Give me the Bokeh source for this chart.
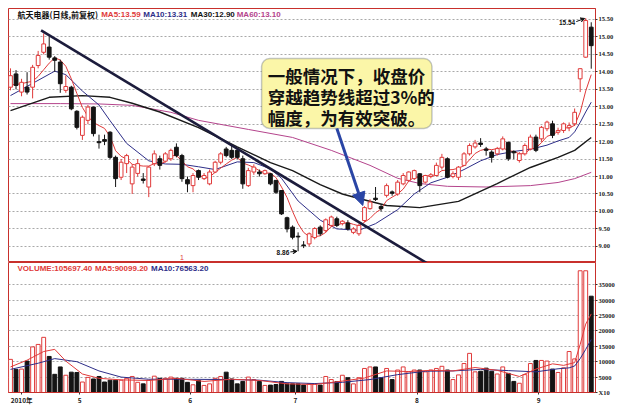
from bokeh.plotting import figure
from bokeh.models import (Range1d, FixedTicker, BoxAnnotation, Arrow, NormalHead,
                          VeeHead, ColumnDataSource, NumeralTickFormatter)
from bokeh.layouts import column
from bokeh.embed import file_html
from bokeh.resources import INLINE
from bokeh.core.properties import value

# ---------------- data ----------------
month_ticks = [2.0, 12.5, 32.5, 51.5, 73.5, 95.5]
month_labels = ["2010年", "5", "6", "7", "8", "9"]
price_ticks = [9.0, 9.5, 10.0, 10.5, 11.0, 11.5, 12.0, 12.5, 13.0, 13.5, 14.0, 14.5, 15.0, 15.5]
volume_ticks = [0, 5000, 10000, 15000, 20000, 25000, 30000, 35000]
volume_tick_labels = ["X10", "5000", "10000", "15000", "20000", "25000", "30000", "35000"]

opens = [13.56, 13.94, 13.42, 13.56, 13.56, 14.18, 14.56, 14.71, 14.40, 14.28,
         13.47, 13.56, 12.87, 12.18, 12.61, 12.99, 12.00, 12.06, 12.27, 11.55,
         10.98, 11.37, 10.79, 11.09, 10.93, 10.70, 11.37, 11.51, 11.44, 11.51,
         11.84, 11.60, 10.91, 10.74, 11.17, 10.94, 10.79, 11.13, 11.41, 11.79,
         11.75, 11.75, 11.51, 10.74, 11.13, 11.13, 11.08, 11.08, 10.89, 10.60,
         9.82, 9.55, 9.29, 9.04, 9.07, 9.25, 9.55, 9.45, 9.60, 9.79,
         9.65, 9.67, 9.40, 9.36, 9.74, 10.08, 10.38, 10.14, 10.46, 10.56,
         10.50, 10.79, 10.89, 10.94, 11.08, 10.84, 11.00, 11.03, 11.27, 11.51,
         11.00, 10.98, 11.32, 11.65, 11.85, 11.96, 11.79, 11.70, 11.65, 11.79,
         11.98, 11.72, 11.46, 11.65, 11.79, 12.13, 12.08, 12.37, 12.51, 12.27,
         12.32, 12.40, 12.51, 13.80, 14.42, 15.28]
closes = [13.89, 13.61, 13.70, 13.42, 14.13, 14.47, 14.80, 14.42, 14.33, 13.66,
          13.58, 12.94, 12.41, 12.70, 12.99, 12.23, 11.97, 12.01, 11.55, 10.94,
          11.41, 11.60, 11.27, 11.37, 10.89, 11.27, 11.65, 11.32, 11.65, 11.75,
          11.60, 10.94, 10.79, 11.03, 10.98, 11.03, 11.13, 11.41, 11.65, 11.60,
          11.55, 11.55, 10.79, 11.17, 11.27, 11.08, 11.17, 10.79, 10.55, 9.93,
          9.50, 9.26, 9.27, 9.02, 9.36, 9.51, 9.36, 9.76, 9.84, 9.60,
          9.72, 9.50, 9.50, 9.60, 10.11, 10.27, 10.34, 10.08, 10.74, 10.52,
          10.84, 11.03, 11.13, 11.17, 10.74, 11.03, 11.05, 11.32, 11.55, 10.98,
          11.08, 11.27, 11.65, 11.89, 11.96, 11.92, 11.75, 11.55, 11.80, 12.08,
          11.51, 11.68, 11.65, 11.89, 12.13, 11.75, 12.41, 12.56, 12.18, 12.32,
          12.51, 12.46, 12.84, 14.09, 15.47, 14.75]
highs = [14.10, 14.05, 13.80, 13.99, 14.20, 14.60, 15.10, 15.00, 14.45, 14.35,
         13.90, 13.60, 12.90, 12.75, 13.05, 13.00, 12.20, 12.20, 12.30, 11.60,
         11.50, 11.65, 11.35, 11.50, 11.10, 11.30, 11.75, 11.60, 11.70, 11.80,
         11.95, 11.65, 11.00, 11.10, 11.20, 11.10, 11.20, 11.45, 11.70, 11.85,
         11.90, 11.80, 11.60, 11.25, 11.35, 11.20, 11.20, 11.10, 10.90, 10.60,
         9.85, 9.60, 9.40, 9.15, 9.40, 9.55, 9.60, 9.80, 9.88, 9.85,
         9.75, 9.75, 9.55, 9.65, 10.15, 10.35, 10.70, 10.20, 10.80, 10.60,
         10.90, 11.10, 11.15, 11.20, 11.10, 11.05, 11.10, 11.40, 11.65, 11.55,
         11.15, 11.30, 11.70, 11.95, 12.05, 12.10, 11.85, 11.75, 11.85, 12.15,
         12.00, 11.75, 11.70, 11.95, 12.20, 12.20, 12.45, 12.60, 12.60, 12.40,
         12.55, 12.55, 12.95, 14.10, 15.54, 15.42]
lows = [13.47, 13.50, 13.30, 13.35, 13.24, 14.10, 14.50, 14.35, 14.00, 13.40,
        13.40, 12.90, 12.35, 12.05, 12.50, 12.15, 11.80, 11.90, 11.50, 10.70,
        10.90, 11.10, 10.50, 11.00, 10.80, 10.41, 11.30, 11.20, 11.40, 11.45,
        11.55, 10.85, 10.55, 10.55, 10.90, 10.90, 10.75, 11.10, 11.35, 11.55,
        11.50, 11.50, 10.65, 10.70, 11.05, 11.00, 11.05, 10.75, 10.50, 9.90,
        9.40, 9.20, 8.86, 8.95, 9.00, 9.20, 9.30, 9.40, 9.55, 9.55,
        9.60, 9.45, 9.35, 9.30, 9.70, 10.05, 10.30, 10.00, 10.40, 10.45,
        10.45, 10.75, 10.85, 10.90, 10.55, 10.80, 10.95, 11.00, 11.20, 10.95,
        10.95, 10.90, 11.30, 11.60, 11.80, 11.85, 11.60, 11.40, 11.60, 11.75,
        11.45, 11.50, 11.40, 11.60, 11.75, 11.70, 12.00, 12.30, 12.10, 12.20,
        12.25, 12.30, 12.45, 13.42, 14.40, 14.09]
volumes = [10750, 7500, 7600, 10200, 14800, 15600, 17900, 11700, 5900, 8300,
           5600, 6600, 6500, 3400, 4900, 4400, 5200, 3400, 4000, 4000,
           4000, 4600, 5200, 3300, 2800, 4000, 5300, 4600, 4600, 5000,
           4600, 4600, 3300, 2500, 3900, 2300, 2800, 4600, 5200, 6600,
           4400, 2800, 3600, 5000, 4200, 3600, 2300, 2400, 2600, 3600,
           2800, 2800, 2800, 2400, 2800, 2800, 2400, 5200, 4200, 3500,
           5600, 4800, 2800, 4800, 7800, 8300, 8300, 4800, 7800, 4200,
           7300, 8300, 6700, 7300, 7300, 6700, 7300, 7800, 8500, 7300,
           4200, 5700, 9400, 12700, 6700, 6900, 7900, 6900, 6000, 8300,
           6200, 3600, 3000, 5800, 9400, 10400, 10400, 10200, 7600, 6500,
           8000, 13300, 10900, 39500, 39500, 31250]

ma5 = [13.62, 13.64, 13.66, 13.70, 13.73, 13.87, 14.06, 14.25, 14.40, 14.34,
       14.16, 13.80, 13.38, 12.98, 12.72, 12.55, 12.46, 12.38, 12.15, 11.74,
       11.58, 11.50, 11.35, 11.32, 11.30, 11.30, 11.37, 11.36, 11.42, 11.60,
       11.60, 11.45, 11.28, 11.22, 11.07, 10.95, 10.99, 11.12, 11.24, 11.36,
       11.47, 11.55, 11.39, 11.33, 11.26, 11.17, 11.10, 11.10, 10.97, 10.70,
       10.40, 10.00, 9.65, 9.40, 9.28, 9.28, 9.30, 9.40, 9.57, 9.61,
       9.66, 9.68, 9.63, 9.59, 9.69, 9.80, 9.96, 10.07, 10.31, 10.41,
       10.50, 10.64, 10.87, 10.98, 10.98, 11.02, 11.02, 11.06, 11.17, 11.19,
       11.20, 11.24, 11.31, 11.48, 11.66, 11.75, 11.79, 11.77, 11.80, 11.83,
       11.74, 11.72, 11.65, 11.66, 11.79, 11.82, 11.97, 12.15, 12.21, 12.28,
       12.40, 12.39, 12.47, 12.84, 13.45, 13.92]
ma10_x = [0, 4, 8, 10, 13, 16, 18, 21, 25, 28, 31, 34, 37, 41, 44, 47, 49, 52, 56, 59,
          63, 66, 70, 73, 76, 79, 82, 85, 88, 91, 94, 97, 99, 101, 102, 103, 104, 105]
ma10_v = [13.32, 13.67, 14.02, 13.92, 13.45, 13.05, 12.60, 11.95, 11.45, 11.36, 11.35,
          11.28, 11.20, 11.42, 11.40, 11.22, 10.95, 10.30, 9.75, 9.50, 9.46, 9.65, 10.05,
          10.50, 10.82, 10.98, 11.20, 11.45, 11.63, 11.72, 11.78, 11.90, 12.02, 12.12,
          12.28, 12.55, 12.85, 13.13]
ma30_x = [0, 7, 13, 18, 22, 27, 34, 41, 47, 51, 56, 60, 63, 68, 74, 81, 88, 94, 99, 102, 105]
ma30_v = [12.89, 13.27, 13.32, 13.27, 13.10, 12.85, 12.40, 11.85, 11.40, 11.17, 10.77,
          10.50, 10.37, 10.17, 10.11, 10.29, 10.80, 11.26, 11.55, 11.75, 12.12]
ma60_x = [0, 9, 16, 22, 29, 34, 43, 51, 58, 65, 70, 74, 79, 86, 94, 99, 102, 105]
ma60_v = [13.09, 13.09, 13.08, 13.04, 12.84, 12.61, 12.35, 12.12, 11.75, 11.32, 10.95,
          10.80, 10.72, 10.70, 10.74, 10.83, 10.94, 11.12]

vma5_x = [0, 3, 6, 8, 10, 13, 16, 20, 25, 30, 35, 40, 45, 50, 55, 60, 64, 68, 72, 76,
          80, 84, 88, 92, 95, 98, 100, 102, 103, 104, 105]
vma5_v = [8300, 10500, 13300, 14000, 10200, 6000, 4600, 4100, 3900, 4600, 3600, 4300,
          3900, 2800, 2600, 3700, 4700, 7000, 6800, 7200, 7000, 8100, 7200, 5200, 7600,
          9300, 8800, 9700, 15600, 22200, 25500]
vma10_x = [0, 5, 8, 12, 16, 20, 25, 30, 40, 45, 50, 55, 60, 65, 70, 75, 80, 85, 90, 95,
           99, 101, 102, 103, 104, 105]
vma10_v = [7500, 9500, 11000, 10000, 7000, 5000, 4300, 4300, 4200, 4000, 3200, 2900,
           3300, 4200, 5800, 6900, 7000, 7500, 7100, 6700, 7700, 8000, 8600, 11000,
           14000, 17200]

trend_x = [5.53, 76.0]
trend_y = [15.185, 8.45]

header_texts = ["航天电器(日线,前复权)", "MA5:13.59", "MA10:13.31", "MA30:12.90", "MA60:13.10"]
volume_header_texts = ["VOLUME:105697.40", "MA5:90099.20", "MA10:76563.20"]
callout_lines = ["一般情况下，收盘价", "穿越趋势线超过3%的", "幅度，为有效突破。"]
high_label = "15.54"
low_label = "8.86"

# ---------------- styles ----------------
RED = "#e03a3a"
DARK = "#141414"
NAVY = "#2e2e88"
MAG = "#b4448c"
FRAME = "#c8302c"
GRID = "#a9a9a9"
AXFONT = "Liberation Sans Narrow"

n = len(opens)
idx = list(range(n))
up = [c >= o for o, c in zip(opens, closes)]
src = ColumnDataSource(dict(
    x=idx, hi=highs, lo=lows,
    bt=[max(o, c) for o, c in zip(opens, closes)],
    bb=[min(o, c) for o, c in zip(opens, closes)],
    vol=volumes,
    col=[RED if u else DARK for u in up],
    fill=["#ffffff" if u else DARK for u in up],
))

xr = Range1d(-0.36, 105.77)


def style_yaxis(a):
    a.axis_line_color = FRAME
    a.major_tick_line_color = "#333333"
    a.major_tick_out = 2
    a.major_tick_in = 0
    a.major_label_standoff = 1
    a.major_label_text_font = AXFONT
    a.major_label_text_font_size = "6.5px"
    a.major_label_text_font_style = "bold"
    a.major_label_text_color = "#222222"


# ---------------- price panel ----------------
p1 = figure(width=617, height=262, x_range=xr, y_range=Range1d(8.537, 15.815),
            output_backend="svg", toolbar_location=None, x_axis_location=None,
            y_axis_location="right", min_border=0, min_border_left=8,
            min_border_top=8, min_border_right=20)
p1.background_fill_color = "#ffffff"
p1.outline_line_color = FRAME
p1.outline_line_width = 1
p1.xgrid.visible = False
p1.ygrid.ticker = FixedTicker(ticks=price_ticks, minor_ticks=[])
p1.ygrid.grid_line_color = GRID
p1.ygrid.grid_line_dash = "2 2"
ax = p1.yaxis[0]
ax.ticker = FixedTicker(ticks=price_ticks, minor_ticks=[])
ax.formatter = NumeralTickFormatter(format="0.00")
style_yaxis(ax)

p1.line(ma60_x, ma60_v, line_color=MAG, line_width=1)
p1.line(ma30_x, ma30_v, line_color="#1a1a1a", line_width=1.4)
p1.line(ma10_x, ma10_v, line_color=NAVY, line_width=1)
p1.line(idx, ma5, line_color=RED, line_width=1)

p1.segment(x0="x", y0="hi", x1="x", y1="lo", line_color="col", line_width=1, source=src)
p1.vbar(x="x", top="bt", bottom="bb", width=0.68, fill_color="fill",
        line_color="col", line_width=1, source=src)

p1.line(trend_x, trend_y, line_color="#1c1c3c", line_width=2.6)

p1.text(x=[1.26], y=[15.64], text=[header_texts[0]], text_font=value("Noto Sans CJK SC"),
        text_font_size="8px", text_font_style="bold", text_color="#111111",
        text_baseline="middle")
p1.text(x=[16.4, 24.0, 32.6, 40.9], y=[15.64] * 4, text=header_texts[1:],
        text_font=value("Liberation Sans"), text_font_size="8px", text_font_style="bold",
        text_color=[RED, NAVY, "#111111", MAG], text_baseline="middle")

box = BoxAnnotation(left=45.4, right=76.2, bottom=12.38, top=14.38,
                    fill_color="#fbf6a8", fill_alpha=1.0, line_color="#3c4a6a",
                    line_width=1.5, border_radius=8)
p1.add_layout(box)
p1.text(x=[46.5] * 3, y=[13.90, 13.29, 12.69], text=callout_lines,
        text_font=value("Noto Sans CJK SC"), text_font_size="17.5px",
        text_font_style="bold", text_color="#111111", text_baseline="middle",
        level="overlay")

p1.add_layout(Arrow(end=NormalHead(size=13, fill_color="#2a45a5", line_color="#2a45a5"),
                    x_start=59.0, y_start=12.38, x_end=63.7, y_end=10.17,
                    line_color="#2a45a5", line_width=3))

p1.text(x=[102.1], y=[15.42], text=[high_label], text_font=value("Liberation Sans"),
        text_font_size="6.5px", text_font_style="bold", text_color="#111111",
        text_align="right", text_baseline="middle")
p1.add_layout(Arrow(end=VeeHead(size=4, line_color="#111111"), x_start=102.3, y_start=15.44,
                    x_end=103.8, y_end=15.53, line_color="#111111", line_width=1))
p1.text(x=[50.4], y=[8.83], text=[low_label], text_font=value("Liberation Sans"),
        text_font_size="6.5px", text_font_style="bold", text_color="#111111",
        text_align="right", text_baseline="middle")
p1.add_layout(Arrow(end=VeeHead(size=4, line_color="#111111"), x_start=50.6, y_start=8.84,
                    x_end=51.8, y_end=8.86, line_color="#111111", line_width=1))
p1.text(x=[31.0], y=[8.68], text=["1"], text_font=value("Liberation Sans"),
        text_font_size="7px", text_color=RED, text_align="center", text_baseline="middle")

# ---------------- volume panel ----------------
p2 = figure(width=617, height=145, x_range=xr, y_range=Range1d(0, 42187),
            output_backend="svg", toolbar_location=None, y_axis_location="right",
            min_border=0, min_border_left=8, min_border_right=20, min_border_bottom=10)
p2.background_fill_color = "#ffffff"
p2.outline_line_color = FRAME
p2.outline_line_width = 1
p2.xgrid.visible = False
p2.ygrid.ticker = FixedTicker(ticks=volume_ticks[1:], minor_ticks=[])
p2.ygrid.grid_line_color = GRID
p2.ygrid.grid_line_dash = "2 2"
vax = p2.yaxis[0]
vax.ticker = FixedTicker(ticks=volume_ticks, minor_ticks=[])
vax.major_label_overrides = dict(zip(volume_ticks, volume_tick_labels))
style_yaxis(vax)
xax = p2.xaxis[0]
xax.ticker = FixedTicker(ticks=month_ticks, minor_ticks=[])
xax.major_label_overrides = dict(zip(month_ticks, month_labels))
xax.axis_line_color = FRAME
xax.major_tick_line_color = "#333333"
xax.major_tick_out = 2
xax.major_tick_in = 0
xax.major_label_standoff = 0
xax.major_label_text_font = "Noto Sans CJK SC"
xax.major_label_text_font_size = "6.5px"
xax.major_label_text_font_style = "bold"
xax.major_label_text_color = "#222222"

p2.vbar(x="x", top="vol", bottom=0, width=0.7, fill_color="fill", line_color="col",
        line_width=1, source=src)
p2.line(vma10_x, vma10_v, line_color=NAVY, line_width=1)
p2.line(vma5_x, vma5_v, line_color=RED, line_width=1)
p2.text(x=[1.26, 15.3, 25.4], y=[40400] * 3, text=volume_header_texts,
        text_font=value("Liberation Sans"), text_font_size="8px", text_font_style="bold",
        text_color=[RED, RED, NAVY], text_baseline="middle")

layout = column(p1, p2, spacing=0)
open("out.html", "w").write(file_html(layout, INLINE))
